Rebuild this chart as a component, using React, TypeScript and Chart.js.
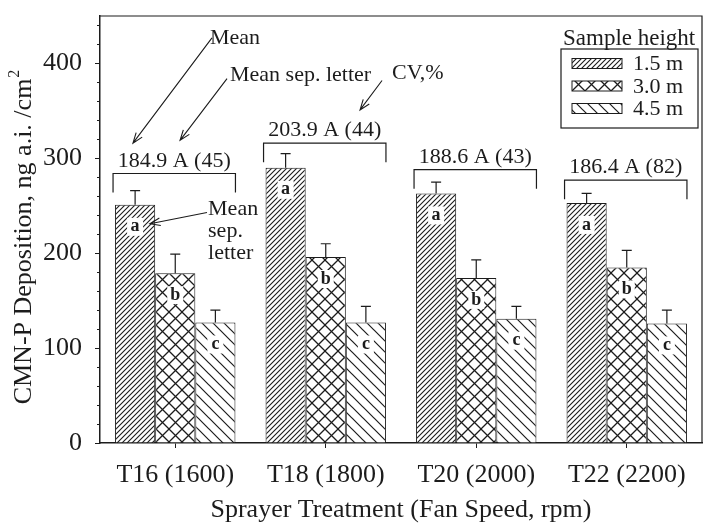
import React, { useEffect, useRef } from 'react';
import { Chart, registerables } from 'chart.js';

Chart.register(...registerables);

// ---------- data ----------
const categories = ['T16 (1600)', 'T18 (1800)', 'T20 (2000)', 'T22 (2200)'];
const seriesLabels = ['1.5 m', '3.0 m', '4.5 m'];
const mean15 = [251, 290, 263, 253];
const mean30 = [179, 196, 174, 185];
const mean45 = [127, 127, 131, 126];
const errTop15 = [266, 305, 275, 263];
const errTop30 = [199, 210, 193, 203];
const errTop45 = [140, 144, 144, 140];
const sepLetters = ['a', 'b', 'c'];
const groupLabels = ['184.9 A (45)', '203.9 A (44)', '188.6 A (43)', '186.4 A (82)'];
const bracketValues = [284, 316, 288, 277];
const yMajorTicks = [0, 100, 200, 300, 400];
const yMinorStep = 20;
const yMax = 450;
const yTitle = 'CMN-P Deposition, ng a.i. /cm';
const xTitle = 'Sprayer Treatment (Fan Speed, rpm)';
const legendTitle = 'Sample height';

// annotation texts in data coordinates (category index, value)
const noteTexts = [
  { text: 'Mean', x: 0.231, v: 420 },
  { text: 'Mean sep. letter', x: 0.364, v: 381 },
  { text: 'CV,%', x: 1.44, v: 384 },
];
const sideNoteLines = ['Mean', 'sep.', 'letter'];
const sideNotePos = { x: 0.218, v: 240 };
const noteArrows = [
  { x1: 0.244, v1: 427, x2: -0.281, v2: 316 },
  { x1: 0.344, v1: 384, x2: 0.032, v2: 319 },
  { x1: 1.374, v1: 382, x2: 1.228, v2: 351 },
  { x1: 0.211, v1: 243, x2: -0.168, v2: 231 },
];

const INK = '#1c1c1c';
const FONT = "'Liberation Serif', 'Times New Roman', serif";

function makePattern(ctx: CanvasRenderingContext2D, kind: string): CanvasPattern | string {
  const c = document.createElement('canvas');
  const s = kind === 'fwd' ? 5 : kind === 'cross' ? 13 : 11;
  c.width = s;
  c.height = s;
  const g = c.getContext('2d');
  if (!g) return '#fff';
  g.fillStyle = '#fff';
  g.fillRect(0, 0, s, s);
  g.strokeStyle = INK;
  g.lineWidth = kind === 'cross' ? 1.3 : kind === 'fwd' ? 1.1 : 1.2;
  const fwd = () => {
    g.beginPath();
    g.moveTo(-1, s + 1); g.lineTo(s + 1, -1);
    g.moveTo(-2, 2); g.lineTo(2, -2);
    g.moveTo(s - 2, s + 2); g.lineTo(s + 2, s - 2);
    g.stroke();
  };
  const back = () => {
    g.beginPath();
    g.moveTo(-1, -1); g.lineTo(s + 1, s + 1);
    g.moveTo(s - 2, -2); g.lineTo(s + 2, 2);
    g.moveTo(-2, s - 2); g.lineTo(2, s + 2);
    g.stroke();
  };
  if (kind === 'fwd') fwd();
  else if (kind === 'back') back();
  else { fwd(); back(); }
  return ctx.createPattern(c, 'repeat') || '#fff';
}

function drawArrow(ctx: CanvasRenderingContext2D, x1: number, y1: number, x2: number, y2: number) {
  const ang = Math.atan2(y2 - y1, x2 - x1);
  const L = 11;
  const w = 0.35;
  ctx.beginPath();
  ctx.moveTo(x1, y1);
  ctx.lineTo(x2, y2);
  ctx.moveTo(x2 - L * Math.cos(ang - w), y2 - L * Math.sin(ang - w));
  ctx.lineTo(x2, y2);
  ctx.lineTo(x2 - L * Math.cos(ang + w), y2 - L * Math.sin(ang + w));
  ctx.stroke();
}

export default function App() {
  const ref = useRef<HTMLCanvasElement | null>(null);

  useEffect(() => {
    document.body.style.margin = '0';
    const canvas = ref.current;
    if (!canvas) return;
    const ctx = canvas.getContext('2d');
    if (!ctx) return;

    const patterns = [makePattern(ctx, 'fwd'), makePattern(ctx, 'cross'), makePattern(ctx, 'back')];
    const means = [mean15, mean30, mean45];
    const errTops = [errTop15, errTop30, errTop45];

    const overlay = {
      id: 'overlay',
      afterDatasetsDraw(chart: any) {
        const c: CanvasRenderingContext2D = chart.ctx;
        const xs = chart.scales.x;
        const ys = chart.scales.y;
        const area = chart.chartArea;
        c.save();
        c.strokeStyle = INK;
        c.fillStyle = INK;

        // frame top / right
        c.lineWidth = 1.2;
        c.beginPath();
        c.moveTo(area.left, area.top);
        c.lineTo(area.right, area.top);
        c.lineTo(area.right, area.bottom);
        c.stroke();

        // minor ticks on y
        c.lineWidth = 1;
        for (let v = 0; v <= yMax; v += yMinorStep) {
          if (v % 100 === 0) continue;
          const py = Math.round(ys.getPixelForValue(v)) + 0.5;
          c.beginPath();
          c.moveTo(area.left - 3, py);
          c.lineTo(area.left, py);
          c.stroke();
        }

        // error bars & letters
        for (let i = 0; i < 3; i++) {
          const meta = chart.getDatasetMeta(i);
          meta.data.forEach((el: any, j: number) => {
            const top = el.y;
            const ye = ys.getPixelForValue(errTops[i][j]);
            c.lineWidth = 1.2;
            c.beginPath();
            c.moveTo(el.x, top);
            c.lineTo(el.x, ye);
            c.moveTo(el.x - 5, ye);
            c.lineTo(el.x + 5, ye);
            c.stroke();
            const cy = top + 22;
            c.fillStyle = '#fff';
            c.fillRect(el.x - 8, cy - 9, 16, 18);
            c.fillStyle = INK;
            c.font = `bold 18px ${FONT}`;
            c.textAlign = 'center';
            c.textBaseline = 'middle';
            c.fillText(sepLetters[i], el.x, cy);
          });
        }

        // brackets with group labels
        const m0 = chart.getDatasetMeta(0);
        const m2 = chart.getDatasetMeta(2);
        for (let j = 0; j < categories.length; j++) {
          const b0 = m0.data[j] as any;
          const b2 = m2.data[j] as any;
          const left = b0.x - b0.width / 2 - 2;
          const right = b2.x + b2.width / 2;
          const y = ys.getPixelForValue(bracketValues[j]);
          c.lineWidth = 1.2;
          c.beginPath();
          c.moveTo(left, y + 19);
          c.lineTo(left, y);
          c.lineTo(right, y);
          c.lineTo(right, y + 19);
          c.stroke();
          c.font = `22px ${FONT}`;
          c.textAlign = 'center';
          c.textBaseline = 'alphabetic';
          c.fillText(groupLabels[j], (left + right) / 2, y - 7);
        }

        // annotations
        c.font = `22px ${FONT}`;
        c.textAlign = 'left';
        c.textBaseline = 'alphabetic';
        noteTexts.forEach((n) => {
          c.fillText(n.text, xs.getPixelForValue(n.x), ys.getPixelForValue(n.v));
        });
        const sx = xs.getPixelForValue(sideNotePos.x);
        const sy = ys.getPixelForValue(sideNotePos.v);
        sideNoteLines.forEach((t, k) => c.fillText(t, sx, sy + k * 22));
        c.lineWidth = 1.1;
        noteArrows.forEach((a) => {
          drawArrow(
            c,
            xs.getPixelForValue(a.x1), ys.getPixelForValue(a.v1),
            xs.getPixelForValue(a.x2), ys.getPixelForValue(a.v2)
          );
        });

        // legend
        const lx = area.right - 141;
        const ly = area.top + 33;
        c.font = `23px ${FONT}`;
        c.textAlign = 'left';
        c.fillText(legendTitle, lx + 2, area.top + 29);
        c.lineWidth = 1.2;
        c.strokeRect(lx, ly, 137, 79);
        for (let i = 0; i < 3; i++) {
          const cy = ly + 14.5 + i * 22.5;
          c.fillStyle = patterns[i] as any;
          c.fillRect(lx + 11, cy - 5, 50, 10);
          c.lineWidth = 1;
          c.strokeRect(lx + 11, cy - 5, 50, 10);
          c.fillStyle = INK;
          c.font = `22px ${FONT}`;
          c.textBaseline = 'middle';
          c.fillText(seriesLabels[i], lx + 72, cy + 1);
        }

        // axis titles
        c.textBaseline = 'middle';
        c.font = `26px ${FONT}`;
        c.textAlign = 'center';
        c.fillText(xTitle, (area.left + area.right) / 2, 510);

        c.save();
        c.translate(24, (area.top + area.bottom) / 2 + 8);
        c.rotate(-Math.PI / 2);
        const w = c.measureText(yTitle).width;
        c.font = `16px ${FONT}`;
        const w2 = c.measureText('2').width;
        const total = w + w2;
        c.font = `26px ${FONT}`;
        c.textAlign = 'left';
        c.fillText(yTitle, -total / 2, 0);
        c.font = `16px ${FONT}`;
        c.fillText('2', -total / 2 + w + 1, -9);
        c.restore();

        c.restore();
      },
    };

    const chart = new Chart(canvas, {
      type: 'bar',
      data: {
        labels: categories,
        datasets: seriesLabels.map((label, i) => ({
          label,
          data: means[i],
          backgroundColor: patterns[i] as any,
          borderColor: INK,
          borderWidth: 1,
          categoryPercentage: 0.8,
          barPercentage: 1.0,
        })),
      },
      options: {
        responsive: false,
        animation: false,
        layout: { padding: { top: 16, right: 1, left: 0, bottom: 0 } },
        plugins: {
          legend: { display: false },
          tooltip: { enabled: false },
          title: { display: false },
        },
        scales: {
          x: {
            grid: { display: true, drawOnChartArea: false, drawTicks: true, tickLength: 5, offset: false, color: INK, tickColor: INK },
            border: { display: true, color: INK, width: 1.5 },
            ticks: { color: INK, font: { family: FONT, size: 26 }, padding: 12, maxRotation: 0 },
            afterFit: (s: any) => { s.height = 85; s.paddingLeft = 0; s.paddingRight = 0; },
          },
          y: {
            min: 0,
            max: yMax,
            grid: { display: true, drawOnChartArea: false, drawTicks: true, tickLength: 5, color: INK, tickColor: INK },
            border: { display: true, color: INK, width: 1.5 },
            ticks: { color: INK, font: { family: FONT, size: 26 }, padding: 13 },
            afterBuildTicks: (s: any) => { s.ticks = yMajorTicks.map((v) => ({ value: v })); },
            afterFit: (s: any) => { s.width = 100; s.paddingTop = 0; s.paddingBottom = 0; },
          },
        },
      },
      plugins: [overlay],
    });

    return () => chart.destroy();
  }, []);

  return (
    <div style={{ width: 703, height: 528, background: '#fff' }}>
      <canvas ref={ref} width={703} height={528} style={{ display: 'block' }} />
    </div>
  );
}
